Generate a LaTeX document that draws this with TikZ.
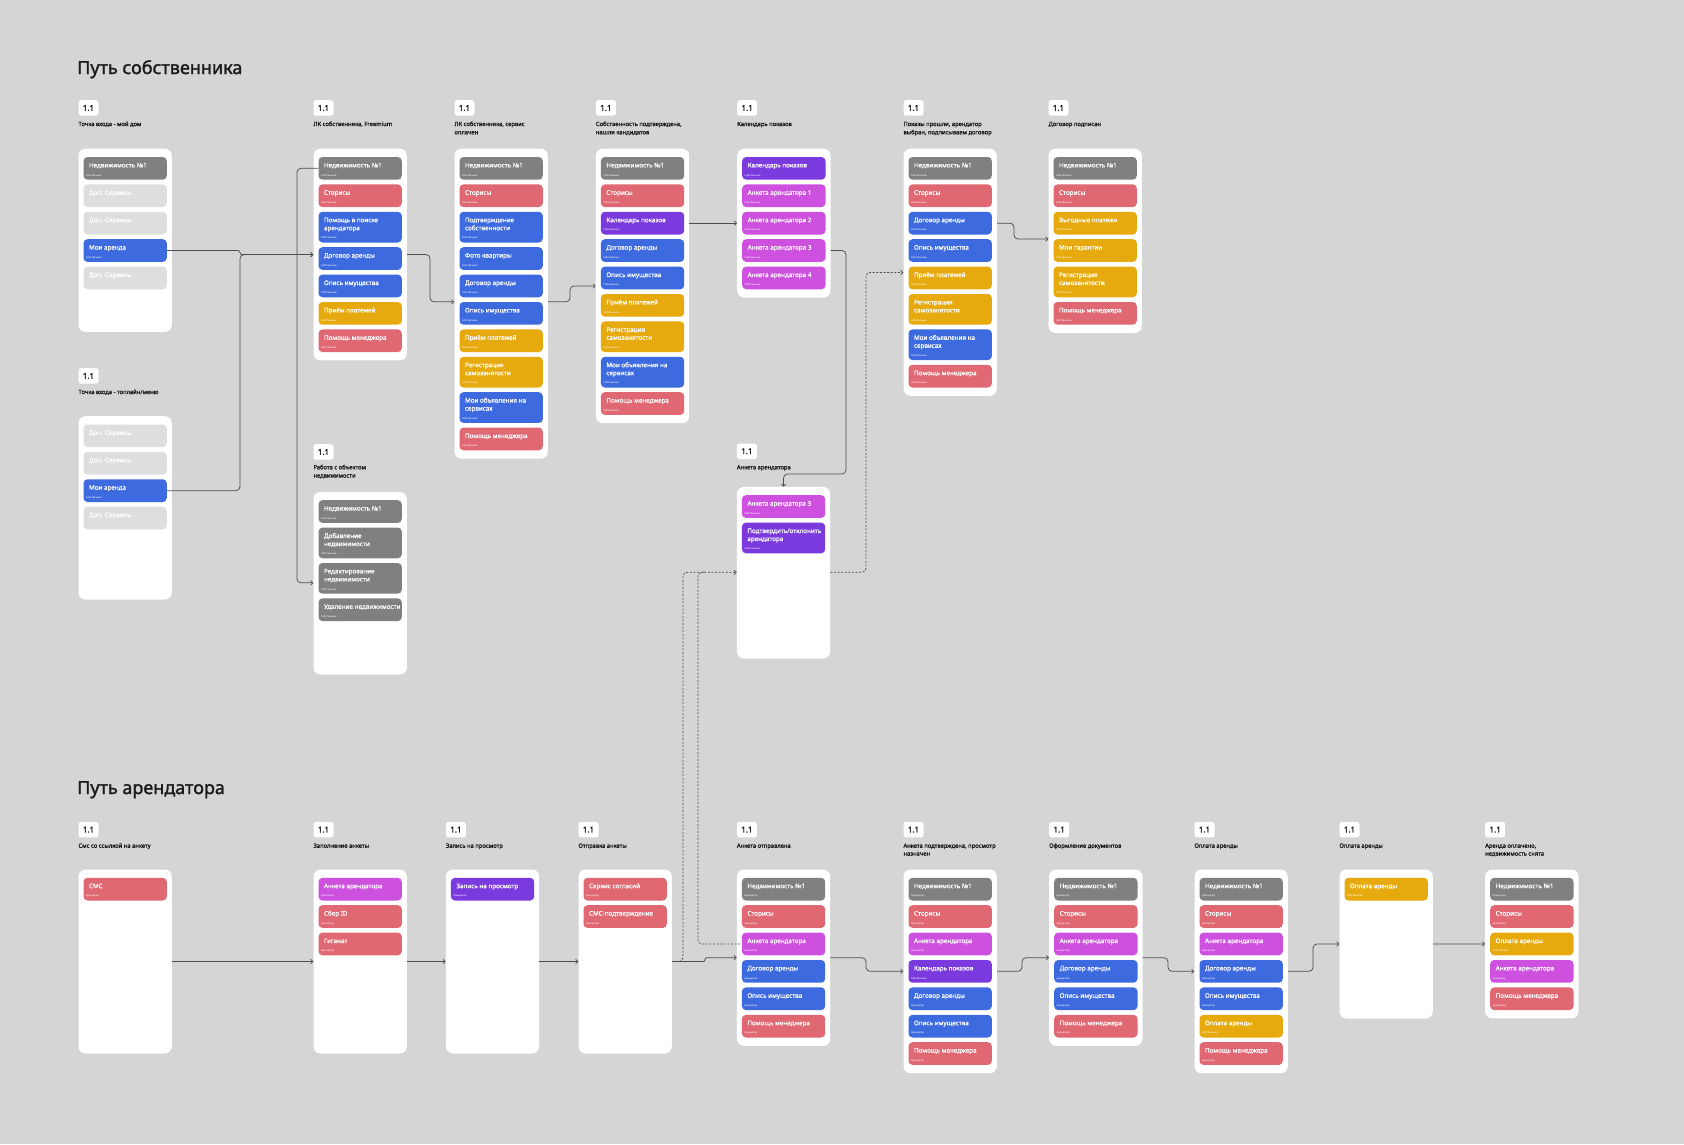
\documentclass[tikz,border=0pt]{standalone}
\usepackage{fontspec}
\setmainfont{Noto Sans}[AutoFakeBold=1.6]
\newfontfamily\itf{Noto Sans}[FakeBold=0.6]
\usetikzlibrary{arrows.meta}
\definecolor{bgc}{HTML}{D5D5D5}
\definecolor{cgr}{HTML}{808080}
\definecolor{lgr}{HTML}{DEDEDE}
\definecolor{cre}{HTML}{E06872}
\definecolor{cbl}{HTML}{3E6AE0}
\definecolor{cye}{HTML}{E7AA0E}
\definecolor{cpu}{HTML}{7B3ADE}
\definecolor{cma}{HTML}{CD50DE}
\definecolor{ink}{HTML}{1A1A1A}
\definecolor{lnc}{HTML}{4D4D4D}
\tikzset{
  card/.style={fill=white, rounded corners=7pt, inner sep=0pt, anchor=north west, minimum width=93.3pt, draw=none},
  item/.style={rounded corners=4pt, inner sep=0pt, anchor=north west, minimum width=83.3pt, draw=none},
  ittl/.style={anchor=base west, inner sep=0pt, text=white, font=\itf\fontsize{6.3}{7}\selectfont},
  ift/.style={anchor=base west, inner sep=0pt, text=white, font=\fontsize{2.5}{3}\selectfont},
  badge/.style={fill=white, rounded corners=2.5pt, minimum width=20pt, minimum height=15.5pt, inner sep=0pt, anchor=north west, text=ink, font=\bfseries\fontsize{8}{9}\selectfont},
  lbl/.style={anchor=base west, inner sep=0pt, text=ink, font=\bfseries\fontsize{5.8}{6}\selectfont},
  hd/.style={anchor=base west, inner sep=0pt, text=ink, font=\bfseries\fontsize{18}{20}\selectfont},
  conn/.style={draw=lnc, line width=0.75pt, rounded corners=4pt, -{Straight Barb[length=2.2pt,width=4.4pt,line width=0.7pt]}},
  dconn/.style={conn, dash pattern=on 2pt off 1.6pt},
}
\newcommand\crd[4]{%
  \node[card, minimum height={#4-#3}] (#1) at (#2,#3) {};%
  \xdef\cx{\fpeval{#2+5}}\xdef\cy{\fpeval{#3+8.3}}}
\newcommand\ia[4]{%
  \node[item, fill=#2, minimum height=22.7pt] (#1) at (\cx,\cy) {};%
  \node[ittl] (#1t) at (\cx+5.5,\cy+10.6) {#3};%
  \node[ift] (#1f) at (\cx+2.5,\cy+19.2) {#4};%
  \xdef\cy{\fpeval{\cy+27.4}}}
\newcommand\ib[5]{%
  \node[item, fill=#2, minimum height=30.7pt] (#1) at (\cx,\cy) {};%
  \node[ittl] (#1t) at (\cx+5.5,\cy+10.6) {#3};%
  \node[ittl] (#1u) at (\cx+5.5,\cy+18.6) {#4};%
  \node[ift] (#1f) at (\cx+2.5,\cy+27.2) {#5};%
  \xdef\cy{\fpeval{\cy+35.4}}}
\newcommand\bdg[3]{\node[badge] (#1) at (#2,#3) {1.1};}
\newcommand\lab[4]{\node[lbl] (#1) at (#2,#3) {#4};}
\def\So{Собственник}
\def\Ar{Арендатор}
\begin{document}
\begin{tikzpicture}[x=1pt,y=-1pt]
\fill[bgc] (0,0) rectangle (1684,1144);
\useasboundingbox (0,0) rectangle (1684,1144);

\node[hd] (h1) at (77,74) {Путь собственника};
\node[hd] (h2) at (77,794) {Путь арендатора};

% ---------- top row ----------
\bdg{bt1}{78.3}{100}\lab{lt1}{78.3}{126}{Точка входа - мой дом}
\crd{t1}{78.3}{148.5}{331.7}
\ia{t1a}{cgr}{Недвижимость №1}{\So}
\ia{t1b}{lgr}{Доп. Сервисы}{}
\ia{t1c}{lgr}{Доп. Сервисы}{}
\ia{t1m}{cbl}{Мои аренда}{\So}
\ia{t1e}{lgr}{Доп. Сервисы}{}

\bdg{bt2}{313.3}{100}\lab{lt2}{313.3}{126}{ЛК собственника, Freemium}
\crd{t2}{313.3}{148.5}{360.2}
\ia{t2a}{cgr}{Недвижимость №1}{\So}
\ia{t2b}{cre}{Сторисы}{\So}
\ib{t2c}{cbl}{Помощь в поиске}{арендатора}{\So}
\ia{t2d}{cbl}{Договор аренды}{\So}
\ia{t2e}{cbl}{Опись имущества}{\So}
\ia{t2f}{cye}{Приём платежей}{\So}
\ia{t2g}{cre}{Помощь менеджера}{\So}

\bdg{bt3}{454.3}{100}\lab{lt3}{454.3}{126}{ЛК собственника, сервис}\lab{lt3b}{454.3}{134.3}{оплачен}
\crd{t3}{454.3}{148.5}{458.4}
\ia{t3a}{cgr}{Недвижимость №1}{\So}
\ia{t3b}{cre}{Сторисы}{\So}
\ib{t3c}{cbl}{Подтверждение}{собственности}{\So}
\ia{t3d}{cbl}{Фото квартиры}{\So}
\ia{t3e}{cbl}{Договор аренды}{\So}
\ia{t3f}{cbl}{Опись имущества}{\So}
\ia{t3g}{cye}{Приём платежей}{\So}
\ib{t3h}{cye}{Регистрация}{самозанятости}{\So}
\ib{t3i}{cbl}{Мои объявления на}{сервисах}{\So}
\ia{t3j}{cre}{Помощь менеджера}{\So}

\bdg{bt4}{595.7}{100}\lab{lt4}{595.7}{126}{Собственность подтверждена,}\lab{lt4b}{595.7}{134.3}{нашли кандидатов}
\crd{t4}{595.7}{148.5}{423}
\ia{t4a}{cgr}{Недвижимость №1}{\So}
\ia{t4b}{cre}{Сторисы}{\So}
\ia{t4c}{cpu}{Календарь показов}{\So}
\ia{t4d}{cbl}{Договор аренды}{\So}
\ia{t4e}{cbl}{Опись имущества}{\So}
\ia{t4f}{cye}{Приём платежей}{\So}
\ib{t4g}{cye}{Регистрация}{самозанятости}{\So}
\ib{t4h}{cbl}{Мои объявления на}{сервисах}{\So}
\ia{t4i}{cre}{Помощь менеджера}{\So}

\bdg{bt5}{737}{100}\lab{lt5}{737}{126}{Календарь показов}
\crd{t5}{737}{148.5}{297.4}
\ia{t5a}{cpu}{Календарь показов}{\So}
\ia{t5b}{cma}{Анкета арендатора 1}{\So}
\ia{t5c}{cma}{Анкета арендатора 2}{\So}
\ia{t5d}{cma}{Анкета арендатора 3}{\So}
\ia{t5e}{cma}{Анкета арендатора 4}{\So}

\bdg{bt6}{903.3}{100}\lab{lt6}{903.3}{126}{Показы прошли, арендатор}\lab{lt6b}{903.3}{134.3}{выбран, подписываем договор}
\crd{t6}{903.3}{148.5}{395.6}
\ia{t6a}{cgr}{Недвижимость №1}{\So}
\ia{t6b}{cre}{Сторисы}{\So}
\ia{t6c}{cbl}{Договор аренды}{\So}
\ia{t6d}{cbl}{Опись имущества}{\So}
\ia{t6e}{cye}{Приём платежей}{\So}
\ib{t6f}{cye}{Регистрация}{самозанятости}{\So}
\ib{t6g}{cbl}{Мои объявления на}{сервисах}{\So}
\ia{t6h}{cre}{Помощь менеджера}{\So}

\bdg{bt7}{1048.3}{100}\lab{lt7}{1048.3}{126}{Договор подписан}
\crd{t7}{1048.3}{148.5}{332.8}
\ia{t7a}{cgr}{Недвижимость №1}{\So}
\ia{t7b}{cre}{Сторисы}{\So}
\ia{t7c}{cye}{Выгодные платежи}{\So}
\ia{t7d}{cye}{Мои гарантии}{\So}
\ib{t7e}{cye}{Регистрация}{самозанятости}{\So}
\ia{t7f}{cre}{Помощь менеджера}{\So}

% ---------- middle ----------
\bdg{bm1}{78.3}{368}\lab{lm1}{78.3}{394}{Точка входа - топлайн/меню}
\crd{m1}{78.3}{416}{599.3}
\ia{m1a}{lgr}{Доп. Сервисы}{}
\ia{m1b}{lgr}{Доп. Сервисы}{}
\ia{m1c}{cbl}{Мои аренда}{\So}
\ia{m1d}{lgr}{Доп. Сервисы}{}

\bdg{bm2}{313.3}{444}\lab{lm2}{313.3}{469.3}{Работа с объектом}\lab{lm2b}{313.3}{477.6}{недвижимости}
\crd{m2}{313.3}{491.7}{674.3}
\ia{m2a}{cgr}{Недвижимость №1}{\So}
\ib{m2b}{cgr}{Добавление}{недвижимости}{\So}
\ib{m2c}{cgr}{Редактирование}{недвижимости}{\So}
\ia{m2d}{cgr}{Удаление недвижимости}{\So}

\bdg{bm5}{736.7}{443.3}\lab{lm5}{736.7}{469.3}{Анкета арендатора}
\crd{m5}{736.7}{486.7}{658.3}
\ia{m5a}{cma}{Анкета арендатора 3}{\So}
\ib{m5b}{cpu}{Подтвердить/отклонить}{арендатора}{\So}

% ---------- bottom row ----------
\bdg{bb1}{78.3}{821.7}\lab{lb1}{78.3}{847.7}{Смс со ссылкой на анкету}
\crd{b1}{78.3}{869.3}{1053.3}
\ia{b1a}{cre}{СМС}{\Ar}

\bdg{bb2}{313.3}{821.7}\lab{lb2}{313.3}{847.7}{Заполнение анкеты}
\crd{b2}{313.3}{869.3}{1053.3}
\ia{b2a}{cma}{Анкета арендатора}{\Ar}
\ia{b2b}{cre}{Сбер ID}{\Ar}
\ia{b2c}{cre}{Гиганат}{\Ar}

\bdg{bb3}{445.7}{821.7}\lab{lb3}{445.7}{847.7}{Запись на просмотр}
\crd{b3}{445.7}{869.3}{1053.3}
\ia{b3a}{cpu}{Запись на просмотр}{\Ar}

\bdg{bb4}{578.3}{821.7}\lab{lb4}{578.3}{847.7}{Отправка анкеты}
\crd{b4}{578.3}{869.3}{1053.3}
\ia{b4a}{cre}{Сервис согласий}{\Ar}
\ia{b4b}{cre}{СМС-подтверждение}{\Ar}

\bdg{bb5}{736.7}{821.7}\lab{lb5}{736.7}{847.7}{Анкета отправлена}
\crd{b5}{736.7}{869.3}{1045.6}
\ia{b5a}{cgr}{Недвижимость №1}{\Ar}
\ia{b5b}{cre}{Сторисы}{\Ar}
\ia{b5c}{cma}{Анкета арендатора}{\Ar}
\ia{b5d}{cbl}{Договор аренды}{\Ar}
\ia{b5e}{cbl}{Опись имущества}{\Ar}
\ia{b5f}{cre}{Помощь менеджера}{\Ar}

\bdg{bb6}{903.3}{821.7}\lab{lb6}{903.3}{847.7}{Анкета подтверждена, просмотр}\lab{lb6b}{903.3}{855.6}{назначен}
\crd{b6}{903.3}{869.3}{1073}
\ia{b6a}{cgr}{Недвижимость №1}{\Ar}
\ia{b6b}{cre}{Сторисы}{\Ar}
\ia{b6c}{cma}{Анкета арендатора}{\Ar}
\ia{b6d}{cpu}{Календарь показов}{\So}
\ia{b6e}{cbl}{Договор аренды}{\Ar}
\ia{b6f}{cbl}{Опись имущества}{\Ar}
\ia{b6g}{cre}{Помощь менеджера}{\Ar}

\bdg{bb7}{1049}{821.7}\lab{lb7}{1049}{847.7}{Оформление документов}
\crd{b7}{1049}{869.3}{1045.6}
\ia{b7a}{cgr}{Недвижимость №1}{\Ar}
\ia{b7b}{cre}{Сторисы}{\Ar}
\ia{b7c}{cma}{Анкета арендатора}{\Ar}
\ia{b7d}{cbl}{Договор аренды}{\Ar}
\ia{b7e}{cbl}{Опись имущества}{\Ar}
\ia{b7f}{cre}{Помощь менеджера}{\Ar}

\bdg{bb8}{1194.3}{821.7}\lab{lb8}{1194.3}{847.7}{Оплата аренды}
\crd{b8}{1194.3}{869.3}{1073}
\ia{b8a}{cgr}{Недвижимость №1}{\Ar}
\ia{b8b}{cre}{Сторисы}{\Ar}
\ia{b8c}{cma}{Анкета арендатора}{\Ar}
\ia{b8d}{cbl}{Договор аренды}{\Ar}
\ia{b8e}{cbl}{Опись имущества}{\Ar}
\ia{b8f}{cye}{Оплата аренды}{\So}
\ia{b8g}{cre}{Помощь менеджера}{\Ar}

\bdg{bb9}{1339.3}{821.7}\lab{lb9}{1339.3}{847.7}{Оплата аренды}
\crd{b9}{1339.3}{869.3}{1018.3}
\ia{b9a}{cye}{Оплата аренды}{\So}

\bdg{bb10}{1485}{821.7}\lab{lb10}{1485}{847.7}{Аренда оплачено,}\lab{lb10b}{1485}{855.6}{недвижимость снята}
\crd{b10}{1485}{869.3}{1018.2}
\ia{b10a}{cgr}{Недвижимость №1}{\Ar}
\ia{b10b}{cre}{Сторисы}{\Ar}
\ia{b10c}{cye}{Оплата аренды}{\So}
\ia{b10d}{cma}{Анкета арендатора}{\Ar}
\ia{b10e}{cre}{Помощь менеджера}{\Ar}

% ---------- routing coordinates ----------
\coordinate (xa) at (240,0);
\coordinate (xb) at (297,0);
\coordinate (xc) at (430,0);
\coordinate (xd) at (570,0);
\coordinate (xe) at (846,0);
\coordinate (ya) at (0,474);
\coordinate (xf) at (866,0);
\coordinate (yd) at (0,572.3);
\coordinate (xg) at (1014,0);
\coordinate (xh) at (683,0);
\coordinate (xi) at (698,0);
\coordinate (xi2) at (704,0);
\coordinate (xj) at (705,0);
\coordinate (xk) at (866,0);
\coordinate (xl) at (1022,0);
\coordinate (xm) at (1168,0);
\coordinate (xn) at (1313,0);
\coordinate (pA) at ([yshift=4pt]t2d.west);
\coordinate (pB) at ([yshift=-4.5pt]m2c.west);
\coordinate (pC) at ([yshift=-8pt]t4e.west);
\coordinate (pD) at ([yshift=5.5pt]t6e.west);

% ---------- connectors (top) ----------
\draw[conn, rounded corners=2pt] (t1m.east) -- (xa |- t1m.east) -- (xa |- pA) -- (t2.west |- pA);
\draw[conn] (m1c.east) -- (xa |- m1c.east) -- (xa |- pA) -- (t2.west |- pA);
\draw[conn] (t2a.west) -- (xb |- t2a.west) -- (xb |- pB) -- (m2.west |- pB);
\draw[conn] (t2.east |- pA) -- (xc |- pA) -- (xc |- t3f.north) -- (t3.west |- t3f.north);
\draw[conn] (t3.east |- t3f.north) -- (xd |- t3f.north) -- (xd |- pC) -- (t4.west |- pC);
\draw[conn] (t4.east |- t4c.east) -- (t5.west |- t4c.east);
\draw[conn] (t5.east |- t5d.east) -- (xe |- t5d.east) -- (xe |- ya) -- (m5.north |- ya) -- (m5.north);
\draw[dconn] (m5.east |- yd) -- (xf |- yd) -- (xf |- pD) -- (t6.west |- pD);
\draw[conn] (t6.east |- t6c.east) -- (xg |- t6c.east) -- (xg |- t7d.north) -- (t7.west |- t7d.north);

% ---------- connectors (bottom) ----------
\draw[conn] (b1.east) -- (b2.west);
\draw[conn] (b2.east) -- (b3.west);
\draw[conn] (b3.east) -- (b4.west);
\draw[conn, rounded corners=2pt] (b4.east) -- (xj |- b4.east) -- (xj |- b5.west) -- (b5.west);
\draw[dconn] (b4.east) -- (xh |- b4.east) -- (xh |- yd) -- (m5.west |- yd);
\draw[dconn, -] (xi2 |- yd) -- (xi |- yd) -- (xi |- b5c.west) -- (b5c.west);
\draw[conn] (b5.east) -- (xk |- b5.east) -- (xk |- b6.west) -- (b6.west);
\draw[conn] (b6.east) -- (xl |- b6.east) -- (xl |- b7.west) -- (b7.west);
\draw[conn] (b7.east) -- (xm |- b7.east) -- (xm |- b8.west) -- (b8.west);
\draw[conn] (b8.east) -- (xn |- b8.east) -- (xn |- b9.west) -- (b9.west);
\draw[conn] (b9.east) -- (b10.west);
\end{tikzpicture}
\end{document}
